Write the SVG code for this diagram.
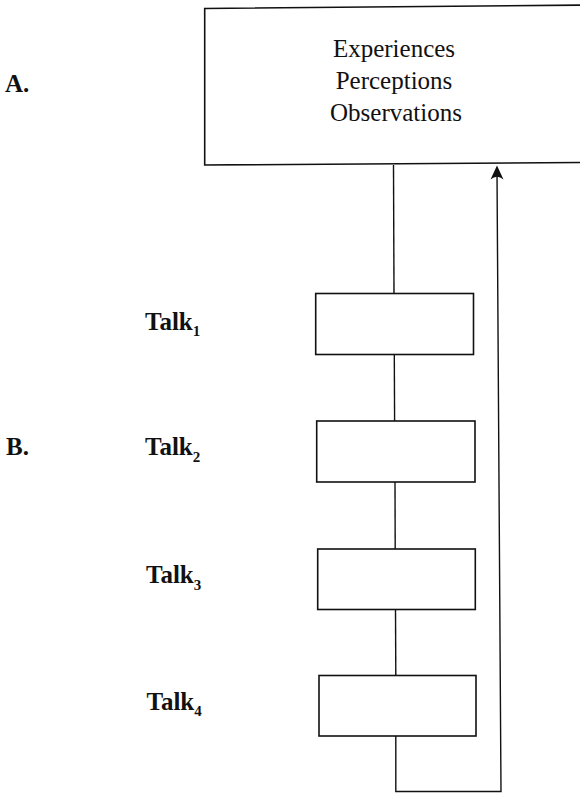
<svg xmlns="http://www.w3.org/2000/svg" width="580" height="793" viewBox="0 0 580 793">
<style>
.box{fill:none;stroke:#111;stroke-width:1.6}
.ln{fill:none;stroke:#111;stroke-width:1.4}
.body{font-family:"Liberation Serif","Times New Roman",serif;font-size:25px;fill:#111;text-anchor:middle}
.lbl{font-family:"Liberation Serif","Times New Roman",serif;font-size:25px;font-weight:bold;fill:#111}
.sub{font-size:15px}
</style>
<rect width="580" height="793" fill="#fff"/>
<g id="connectors">
<line class="ln" x1="393.5" y1="165" x2="394" y2="293.5"/>
<line class="ln" x1="394.3" y1="354.5" x2="394.6" y2="421"/>
<line class="ln" x1="395" y1="482" x2="395.2" y2="549"/>
<line class="ln" x1="395.5" y1="609.5" x2="395.8" y2="675.5"/>
<path class="ln" d="M395.8,736 L395.8,791.5 L501,791.5 L497,172"/>
<path d="M497,165.5 L503.5,179.5 Q497,174 490.5,179.5 Z" fill="#111"/>
</g>
<g id="nodeA">
<path class="box" d="M590,5 L204.7,8.5 L204.7,165 L590,162.5"/>
<text class="body" x="394" y="56.5">Experiences</text>
<text class="body" x="394" y="88.5">Perceptions</text>
<text class="body" x="396" y="120.5">Observations</text>
</g>
<g id="labelA"><text class="lbl" x="5" y="92">A.</text></g>
<g id="labelB"><text class="lbl" x="6" y="455">B.</text></g>
<g id="talk1">
<rect class="box" x="315.7" y="293.5" width="157.8" height="61"/>
<text class="lbl" x="145" y="330">Talk<tspan class="sub" dy="6">1</tspan></text>
</g>
<g id="talk2">
<rect class="box" x="316.7" y="421" width="158.3" height="61"/>
<text class="lbl" x="145" y="455">Talk<tspan class="sub" dy="7">2</tspan></text>
</g>
<g id="talk3">
<rect class="box" x="317.7" y="549" width="157.6" height="60.5"/>
<text class="lbl" x="146" y="583">Talk<tspan class="sub" dy="7">3</tspan></text>
</g>
<g id="talk4">
<rect class="box" x="319" y="675.5" width="157" height="60.5"/>
<text class="lbl" x="146.5" y="710">Talk<tspan class="sub" dy="6">4</tspan></text>
</g>
</svg>
